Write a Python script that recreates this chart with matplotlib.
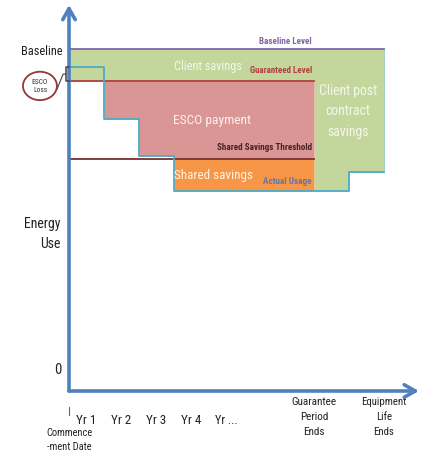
import os
import matplotlib
matplotlib.use("Agg")
import matplotlib.pyplot as plt
from matplotlib import font_manager as fm
from matplotlib.patches import Ellipse
import numpy as np

plt.rcParams['font.family'] = ['Liberation Sans Narrow', 'DejaVu Sans']

# ---- data (time in years from commencement, energy relative to baseline = 100) ----
year_edges = [0, 1, 2, 3, 8, 9]            # step boundaries of actual usage
actual_usage = [94.7, 79.5, 68.7, 58.5, 64.0]
baseline_level = 100.0
guaranteed_level = 90.6
threshold_level = 67.8
guarantee_end = 7
life_end = 9
axis_top = 112.9
axis_right = 10

year_labels = ["Yr 1", "Yr 2", "Yr 3", "Yr 4", "Yr ..."]
end_labels = ["Guarantee\nPeriod\nEnds", "Equipment\nLife\nEnds"]

GREEN = '#C3D69B'
RED = '#D99694'
ORANGE = '#F79646'
TEAL = '#4BACC6'
AXIS = '#4F81BD'
DARKRED = '#953735'
PURPLE = '#8064A2'

TEXT_SCALE = 1.18   # the narrow face is wider than the design font, so allow a bit more room


def _weight_num(w):
    if isinstance(w, str):
        return fm.weight_dict.get(w, 400)
    return w


def narrow_font_path(bold=False):
    """Pick the narrowest sans-serif face that is installed."""
    prefs = [
        lambda f: f.name == 'Liberation Sans Narrow',
        lambda f: f.name == 'Roboto Condensed',
        lambda f: f.name == 'DejaVu Sans' and 'Condensed' in os.path.basename(f.fname),
        lambda f: f.name == 'Roboto',
        lambda f: f.name == 'Lato',
    ]
    target = 700 if bold else 400
    for p in prefs:
        cands = [f for f in fm.fontManager.ttflist if p(f) and f.style == 'normal']
        if cands:
            best = min(cands, key=lambda f: abs(_weight_num(f.weight) - target))
            return best.fname
    return None


REG = narrow_font_path(False)
BOLD = narrow_font_path(True)


def fp(bold=False):
    path = BOLD if bold else REG
    if path:
        return fm.FontProperties(fname=path)
    return fm.FontProperties(family='DejaVu Sans', weight='bold' if bold else 'normal')


fig = plt.figure(figsize=(4.23, 4.54), dpi=100)
ax = fig.add_axes([0, 0, 1, 1])
ax.set_xlim(-69 / 35, (423 - 69) / 35)
ax.set_ylim((391 - 454) / 3.42, 391 / 3.42)
ax.axis('off')
renderer = fig.canvas.get_renderer()

fitted = []


def label(x, y, s, width_px, bold=False, scale=TEXT_SCALE, **kw):
    """Place a text and remember the pixel width of its widest line."""
    t = ax.text(x, y, s, fontproperties=fp(bold), fontsize=10, **kw)
    fitted.append((t, width_px * scale))
    return t


# fine-grained step function of usage
t = np.linspace(0, life_end, 1801)
idx = np.clip(np.searchsorted(year_edges, t, side='right') - 1, 0, len(actual_usage) - 1)
usage = np.array(actual_usage)[idx]

in_guar = t <= guarantee_end
# client savings: baseline down to guaranteed level during guarantee, to usage afterwards
green_low = np.where(in_guar, guaranteed_level, usage)
ax.fill_between(t, green_low, baseline_level, color=GREEN, lw=0, zorder=1)
# ESCO payment: guaranteed level down to usage (but not below the threshold)
red_low = np.maximum(usage, threshold_level)
ax.fill_between(t, red_low, guaranteed_level, where=in_guar & (usage < guaranteed_level),
                color=RED, lw=0, zorder=1)
# shared savings: threshold down to usage
ax.fill_between(t, usage, threshold_level, where=in_guar & (usage < threshold_level),
                color=ORANGE, lw=0, zorder=1)

# level lines
ax.plot([0, life_end], [baseline_level] * 2, color=PURPLE, lw=1.3, zorder=3)
ax.plot([0, guarantee_end], [guaranteed_level] * 2, color='#B0403D', lw=1.3, zorder=3)
ax.plot([0, guarantee_end], [threshold_level] * 2, color='#7A2E2C', lw=1.3, zorder=3)
ax.step(year_edges, actual_usage + [actual_usage[-1]], where='post', color=TEAL, lw=1.3, zorder=3)
ax.plot([life_end, life_end], [actual_usage[-1], baseline_level], color=TEAL, lw=0.6, alpha=0.5, zorder=2)

# axes with open arrow heads
arrow = dict(arrowstyle='->,head_length=0.8,head_width=0.45', color=AXIS, lw=2.6, shrinkA=0, shrinkB=0)
ax.annotate('', xy=(0, axis_top), xytext=(0, 0), arrowprops=arrow, zorder=5)
ax.annotate('', xy=(axis_right, 0), xytext=(0, 0), arrowprops=arrow, zorder=5)

# region labels
label(3.98, 95.0, "Client savings", 62, scale=1.08, color='#F4F7EC', ha='center', va='center', zorder=6)
label(4.09, 79.2, "ESCO payment", 66, color='#FBF0F0', ha='center', va='center', zorder=6)
label(4.14, 62.9, "Shared savings", 67, color='#FFF3E8', ha='center', va='center', zorder=6)
label(7.97, 81.8, "Client post\ncontract\nsavings", 49, color='#F4F7EC',
      ha='center', va='center', linespacing=1.6, zorder=6)

# line labels
label(6.94, 102.3, "Baseline Level", 50, bold=True, scale=1.05, color=PURPLE,
      ha='right', va='center', zorder=6)
label(6.94, 93.6, "Guaranteed Level", 62, bold=True, scale=1.0, color='#B0403D',
      ha='right', va='center', zorder=6)
label(6.94, 71.1, "Shared Savings Threshold", 90, bold=True, scale=1.05, color='#4A2222',
      ha='right', va='center', zorder=6)
label(6.94, 61.4, "Actual Usage", 46, bold=True, scale=1.05, color='#5579B5',
      ha='right', va='center', zorder=6)

# y-axis labels
label(-0.2, 99.3, "Baseline", 35, ha='right', va='center', color='#222222')
label(-0.23, 46.0, "Energy\nUse", 31, ha='right', va='center', color='#222222',
      multialignment='right', linespacing=1.55)
label(-0.31, 6.1, "0", 6, ha='center', va='center', color='#222222')

# ESCO loss callout
ax.add_patch(Ellipse((-0.83, 89.2), 0.97, 8.3, fill=False, ec=DARKRED, lw=1.3, zorder=6))
label(-0.83, 89.2, "ESCO\nLoss", 14, ha='center', va='center', color='#333333',
      linespacing=1.5, zorder=7)
gap_mid = (actual_usage[0] + guaranteed_level) / 2
ax.plot([-0.34, -0.17, -0.09], [88.3, gap_mid, gap_mid], color='#555555', lw=0.9, zorder=6)
ax.plot([0.0, -0.09, -0.09, 0.0], [actual_usage[0], actual_usage[0], guaranteed_level, guaranteed_level],
        color='#444444', lw=1.1, zorder=6)

# x-axis labels
for i, lab in enumerate(year_labels):
    label(i + 0.5, -8.5, lab, 19 if lab.endswith('.') else 17, ha='center', va='center', color='#222222')
for xpos, lab in zip([guarantee_end, life_end], end_labels):
    label(xpos, -1.9, lab, 38, ha='center', va='top', color='#222222', linespacing=1.6)
ax.plot([0, 0], [-4.7, -7.1], color='#666666', lw=0.8)
label(0, -10.9, "Commence\n-ment Date", 39, ha='center', va='top', color='#222222', linespacing=1.45)

# scale every label so its widest line spans the intended width
for txt, wpx in fitted:
    lines = txt.get_text().split('\n')
    widths = []
    for line in lines:
        probe = ax.text(0, 0, line, fontproperties=txt.get_fontproperties())
        widths.append(probe.get_window_extent(renderer).width)
        probe.remove()
    cur = max(widths)
    if cur > 0:
        txt.set_fontsize(txt.get_fontsize() * wpx / cur)

fig.savefig("out.png", dpi=100)
